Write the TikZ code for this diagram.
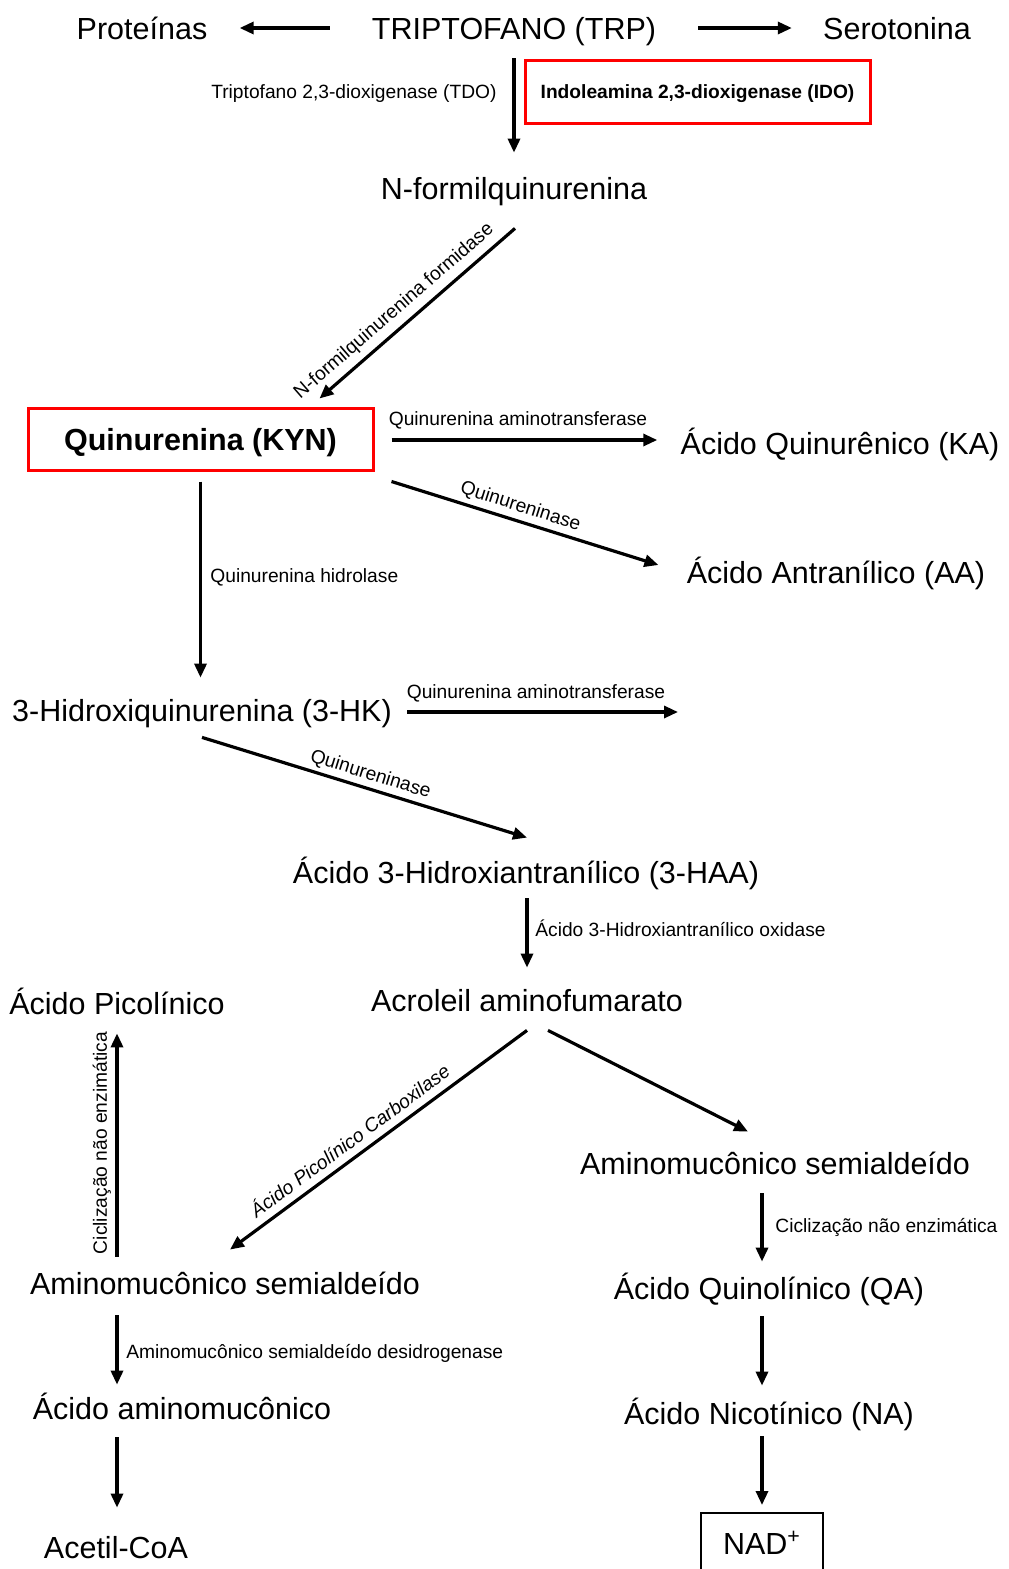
\documentclass[tikz,border=0pt]{standalone}
\usepackage{fontspec}
\setmainfont{Liberation Sans}
\usetikzlibrary{arrows.meta, calc}
\tikzset{>={Triangle[width=6pt,length=7pt]}}
\newcommand{\bigsz}{\fontsize{15.25}{18}\selectfont}
\newcommand{\smallsz}{\fontsize{9.6}{11}\selectfont}
\def \arrowwidth {1.6pt}
\def \boxwidth {172.5pt}

\tikzset{
  met/.style = {inner sep = 0, text height = 11pt, text depth = 0pt, font = \bigsz},
  enz/.style = {inner sep = 0, text height = 6.9pt, text depth = 0pt, font = \smallsz},
  redbox/.style = {draw = red, line width = 1.5pt},
  reac/.style = {->, line width = \arrowwidth}
}

\begin{document}
\begin{tikzpicture}[x = 0.5pt, y = -0.5pt]
\useasboundingbox (0, 0) rectangle (1008, 1569);

\node (trp) [met] at (514, 28) {TRIPTOFANO (TRP)};
\node (prot) [met] at (142, 28) {Proteínas};
\node (sero) [met] at (897, 28) {Serotonina};
\draw[reac, shorten < = 21pt, shorten > = 16pt] (trp.west) to (prot.east);
\draw[reac, shorten < = 21pt, shorten > = 15.5pt] (trp.east) to (sero.west);

\node (nformil) [met] at (514, 188) {N-formilquinurenina};
\draw[reac, shorten < = 9.5pt, shorten > = 12pt] (trp.south) to (nformil.north);
\node (tdo) [enz, anchor = east] at (497, 92) {Triptofano 2,3-dioxigenase (TDO)};
\node (ido) [redbox, enz, font = \smallsz\bfseries, minimum width = \boxwidth, minimum height = 31.5pt] at (697.5, 91.5) {Indoleamina 2,3-dioxigenase (IDO)};

\node (kyn) [redbox, met, font = \bigsz\bfseries, minimum width = \boxwidth, minimum height = 31pt] at (200.5, 439) {Quinurenina (KYN)};
\draw[reac] ($(nformil.south) + (1, 29)$) to ($(kyn.north east) + (-55, -8)$);
\node (nfform) [enz, rotate = 41] at (393, 310) {N-formilquinurenina formidase};

\node (ka) [met] at (840, 443) {Ácido Quinurênico (KA)};
\draw[reac] ($(kyn.east) + (17, 1)$) to ($(ka.west) + (-23, -3)$);
\node (kat1) [enz] at (518, 419) {Quinurenina aminotransferase};

\node (aa) [met] at (836, 572) {Ácido Antranílico (AA)};
\draw[reac] ($(kyn.south east) + (17, 10)$) to ($(aa.west) + (-28, -7)$);
\node (kynase1) [enz, rotate = -17.6] at (521, 505) {Quinureninase};

\node (hk) [met] at (202, 710) {3-Hidroxiquinurenina (3-HK)};
\draw[reac, shorten < = 5pt, shorten > = 10.5pt] (kyn.south) to (kyn.south |- hk.north);
\node (hidro) [enz, anchor = west] at (210, 576) {Quinurenina hidrolase};
\coordinate (hkend) at (678, 712);
\draw[reac] ($(hk.east) + (15, 2)$) to (hkend);
\node (kat2) [enz] at (536, 692) {Quinurenina aminotransferase};

\node (haa) [met] at (526, 872) {Ácido 3-Hidroxiantranílico (3-HAA)};
\draw[reac] ($(hk.south) + (0, 16)$) to ($(haa.north) + (1, -23)$);
\node (kynase2) [enz, rotate = -17.3] at (371, 773) {Quinureninase};

\node (acr) [met] at (527, 1000) {Acroleil aminofumarato};
\draw[reac, shorten < = 7.5pt, shorten > = 10.5pt] (haa.south -| acr.north) to (acr.north);
\node (haaox) [enz, anchor = west] at (535, 930) {Ácido 3-Hidroxiantranílico oxidase};

\node (pic) [met] at (117, 1003) {Ácido Picolínico};
\node (amsl) [met] at (225, 1283) {Aminomucônico semialdeído};
\node (amsr) [met] at (775, 1163) {Aminomucônico semialdeído};
\draw[reac] ($(acr.south) + (0, 19)$) to ($(amsl.north) + (5, -22)$);
\node (apc) [enz, font = \smallsz\itshape, rotate = 36.5] at (350, 1141) {Ácido Picolínico Carboxilase};
\draw[reac] ($(acr.south) + (21, 19)$) to ($(amsr.north) + (-27, -20)$);
\draw[reac, shorten < = 7.5pt, shorten > = 9.5pt] (pic.south |- amsl.north) to (pic.south);
\node (cicl1) [enz, rotate = 90] at (100, 1143) {Ciclização não enzimática};

\node (qa) [met] at (769, 1288) {Ácido Quinolínico (QA)};
\node (na) [met] at (769, 1413) {Ácido Nicotínico (NA)};
\node (nad) [draw, met, line width = 1pt, minimum width = 61pt, minimum height = 30pt] at (762, 1543) {NAD\textsuperscript{+}};
\draw[reac, shorten < = 9.5pt, shorten > = 7.5pt] (nad.north |- amsr.south) to (nad.north |- qa.north);
\node (cicl2) [enz, anchor = west] at (775, 1226) {Ciclização não enzimática};
\draw[reac, shorten < = 8.5pt, shorten > = 8pt] (nad.north |- qa.south) to (nad.north |- na.north);
\draw[reac, shorten < = 6pt, shorten > = 3.5pt] (nad.north |- na.south) to (nad.north);

\node (aam) [met] at (182, 1408) {Ácido aminomucônico};
\node (acetil) [met] at (116, 1547) {Acetil-CoA};
\draw[reac, shorten < = 10.5pt, shorten > = 6pt] (pic.south |- amsl.south) to (pic.south |- aam.north);
\node (desid) [enz, anchor = west] at (126, 1352) {Aminomucônico semialdeído desidrogenase};
\draw[reac, shorten < = 9pt, shorten > = 14pt] (pic.south |- aam.south) to (pic.south |- acetil.north);

\end{tikzpicture}
\end{document}
